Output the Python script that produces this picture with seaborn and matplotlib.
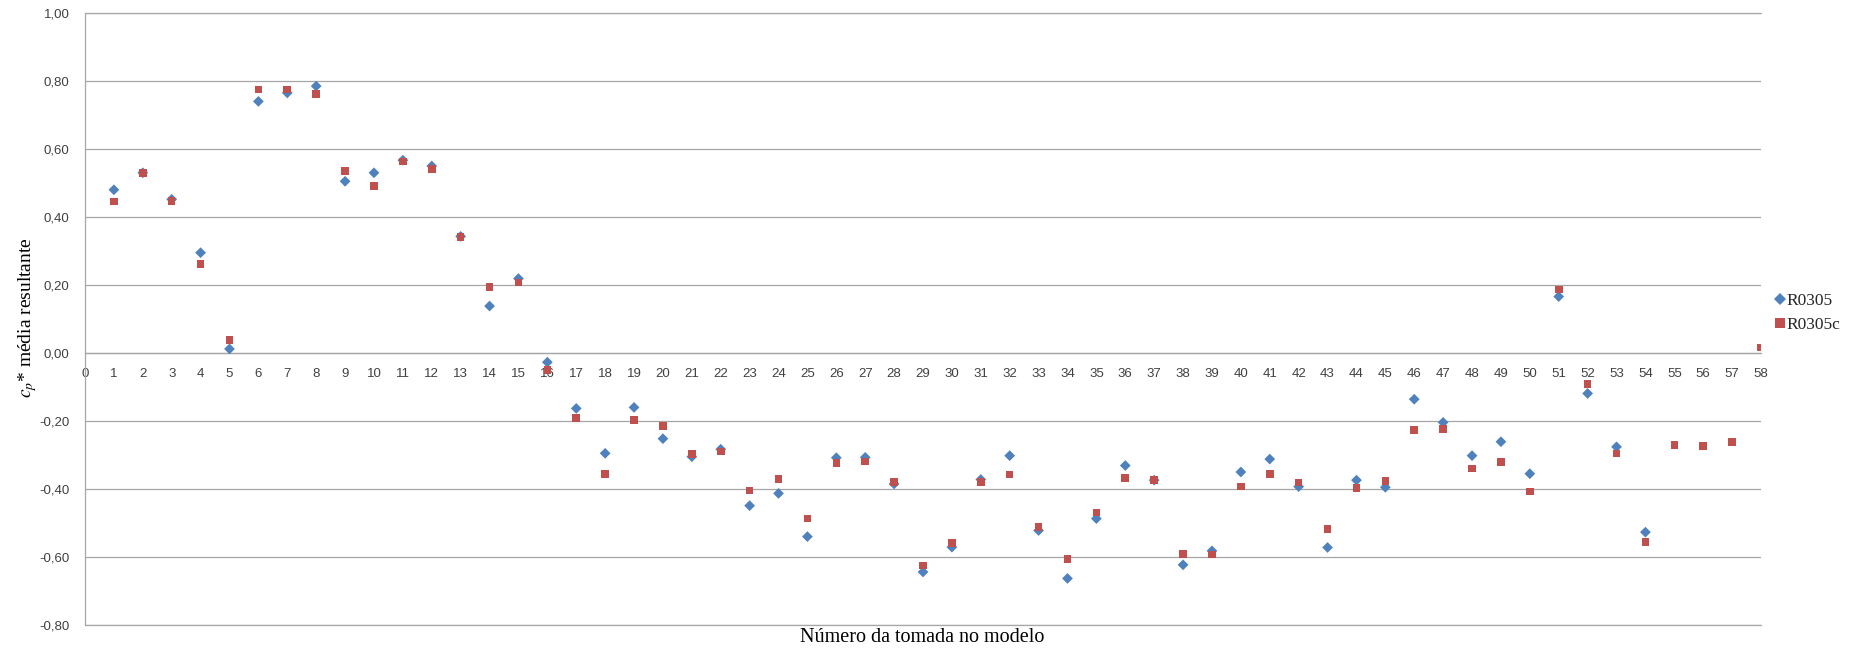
import matplotlib
matplotlib.use("Agg")
import matplotlib.pyplot as plt
import numpy as np
import pandas as pd
import seaborn as sns

# ---- data ----
tomada = list(range(1, 59))
r0305 = [0.480, 0.530, 0.452, 0.295, 0.012, 0.740, 0.765, 0.785, 0.505, 0.530,
         0.567, 0.550, 0.343, 0.138, 0.219, -0.027, -0.163, -0.295, -0.160, -0.252,
         -0.305, -0.283, -0.449, -0.413, -0.540, -0.308, -0.307, -0.385, -0.644, -0.571,
         -0.372, -0.302, -0.522, -0.663, -0.487, -0.331, -0.374, -0.623, -0.582, -0.350,
         -0.312, -0.393, -0.572, -0.374, -0.395, -0.136, -0.204, -0.302, -0.261, -0.355,
         0.166, -0.119, -0.276, -0.527, None, None, None, None]
r0305c = [0.446, 0.530, 0.447, 0.262, 0.039, 0.775, 0.775, 0.761, 0.535, 0.492,
          0.563, 0.542, 0.341, 0.194, 0.207, -0.050, -0.191, -0.355, -0.197, -0.215,
          -0.297, -0.290, -0.404, -0.370, -0.487, -0.324, -0.319, -0.379, -0.625, -0.559,
          -0.379, -0.357, -0.511, -0.606, -0.469, -0.367, -0.374, -0.591, -0.593, -0.393,
          -0.356, -0.381, -0.518, -0.397, -0.376, -0.226, -0.223, -0.340, -0.321, -0.407,
          0.187, -0.092, -0.296, -0.556, -0.271, -0.273, -0.262, 0.016]
series_names = ["R0305", "R0305c"]
x_ticks = list(range(0, 59))
y_ticks = [-0.8, -0.6, -0.4, -0.2, 0.0, 0.2, 0.4, 0.6, 0.8, 1.0]

df = pd.concat([
    pd.DataFrame({"tomada": tomada, "cp": r0305, "serie": series_names[0]}),
    pd.DataFrame({"tomada": tomada, "cp": r0305c, "serie": series_names[1]}),
], ignore_index=True)
df["cp"] = pd.to_numeric(df["cp"])
df = df.dropna()

sns.set_style("white")
plt.rcParams["font.family"] = ["Liberation Sans", "DejaVu Sans"]
plt.rcParams["mathtext.fontset"] = "stix"

W, H = 1856, 652
fig = plt.figure(figsize=(W / 100, H / 100), dpi=100)
ax_left, ax_right, ax_top, ax_bot = 85, 1761, 13, 625
ax = fig.add_axes([ax_left / W, 1 - ax_bot / H, (ax_right - ax_left) / W, (ax_bot - ax_top) / H])

sns.scatterplot(data=df, x="tomada", y="cp", hue="serie", style="serie",
                hue_order=series_names, style_order=series_names,
                palette={"R0305": "#4F81BD", "R0305c": "#C0504D"},
                markers={"R0305": "D", "R0305c": "s"},
                s=30, linewidth=0, ax=ax, zorder=3)

ax.set_xlim(0, 58)
ax.set_ylim(-0.8, 1.0)
ax.set_yticks(y_ticks)
ax.set_yticklabels([f"{v:.2f}".replace(".", ",") for v in y_ticks])
ax.set_xticks(x_ticks)
ax.set_xticklabels([str(v) for v in x_ticks])

ax.grid(axis="y", color="#A6A6A6", linewidth=0.9, zorder=0)
ax.grid(axis="x", visible=False)
ax.set_axisbelow(True)
ax.axhline(-0.8, color="#A6A6A6", linewidth=0.9, clip_on=False, zorder=0)
ax.axhline(1.0, color="#A6A6A6", linewidth=0.9, clip_on=False, zorder=0)

for sp in ["top", "right"]:
    ax.spines[sp].set_visible(False)
ax.spines["left"].set_color("#A6A6A6")
ax.spines["left"].set_linewidth(0.9)
ax.spines["bottom"].set_position(("data", 0))
ax.spines["bottom"].set_color("#A6A6A6")
ax.spines["bottom"].set_linewidth(0.9)

ax.tick_params(axis="x", length=0, pad=11, labelsize=9.5, colors="#404040")
ax.tick_params(axis="y", length=0, pad=11, labelsize=9.5, colors="#404040")

ax.set_xlabel("")
ax.set_ylabel("")

fig.text(922 / W, 1 - 638 / H, "Número da tomada no modelo",
         family=["Liberation Serif", "DejaVu Serif"], fontsize=14.5,
         ha="center", va="center", color="#000000")
fig.text(28 / W, 1 - 318 / H, r"$c_p$* média resultante",
         family=["Liberation Serif", "DejaVu Serif"], fontsize=14,
         ha="center", va="center", rotation=90, color="#000000")

sns.move_legend(ax, loc="center left", bbox_to_anchor=(1.004, 0.51),
                title=None, frameon=False, borderaxespad=0,
                handlelength=0.6, handletextpad=0.1, labelspacing=0.45,
                markerscale=1.2,
                prop={"family": ["Liberation Serif", "DejaVu Serif"], "size": 12.5})

fig.savefig("out.png", dpi=100)
